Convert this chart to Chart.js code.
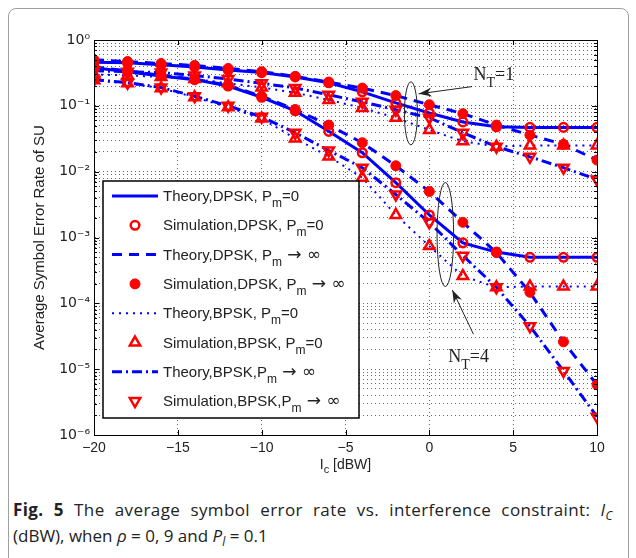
<!DOCTYPE html>
<html>
<head>
<meta charset="utf-8">
<script src="https://cdn.jsdelivr.net/npm/chart.js@4.4.0/dist/chart.umd.min.js"></script>
<style>
  body { margin: 0; background: #fff; }
  #wrap { position: relative; width: 636px; height: 558px; overflow: hidden; }
  #frame { position: absolute; left: 8px; top: 8px; width: 619px; height: 600px; border: 1px solid #a0a0a0; border-radius: 8px; }
  #chartBox { position: absolute; left: 0; top: 0; width: 636px; height: 480px; }
  #caption { position: absolute; left: 13px; top: 497px; width: 600px; font-family: "Open Sans", sans-serif; font-size: 17px; line-height: 26px; color: #222; }
  #caption .first { text-align: justify; text-align-last: justify; letter-spacing: 0.4px; }
  #caption sub { font-size: 12px; line-height: 0; }
</style>
</head>
<body>
<div id="wrap">
  <div id="frame"></div>
  <div id="chartBox"><canvas id="serChart" width="636" height="480"></canvas></div>
  <div id="caption">
    <div class="first"><b>Fig. 5</b> The average symbol error rate vs. interference constraint: <i>I<sub>C</sub></i></div>
    <div>(dBW), when <i>&rho;</i> = 0, 9 and <i>P<sub>l</sub></i> = 0.1</div>
  </div>
</div>
<script>
// I_c values [dBW]
const icValues = [-20, -18, -16, -14, -12, -10, -8, -6, -4, -2, 0, 2, 4, 6, 8, 10];

// N_T = 1
const dpskPm0NT1   = [0.46, 0.45, 0.42, 0.39, 0.35, 0.32, 0.275, 0.224, 0.163, 0.111, 0.078, 0.057, 0.048, 0.047, 0.047, 0.047];
const dpskPmInfNT1 = [0.50, 0.47, 0.44, 0.41, 0.37, 0.33, 0.28, 0.23, 0.186, 0.143, 0.104, 0.076, 0.051, 0.036, 0.026, 0.015];
const bpskPm0NT1   = [0.30, 0.29, 0.275, 0.255, 0.22, 0.19, 0.158, 0.123, 0.093, 0.066, 0.043, 0.029, 0.024, 0.025, 0.025, 0.025];
const bpskPmInfNT1 = [0.34, 0.33, 0.32, 0.29, 0.255, 0.22, 0.187, 0.147, 0.115, 0.087, 0.066, 0.039, 0.024, 0.0168, 0.0115, 0.0076];

// N_T = 4
const dpskPm0NT4   = [0.38, 0.33, 0.285, 0.25, 0.20, 0.135, 0.084, 0.041, 0.0194, 0.0068, 0.0022, 0.00083, 0.0006, 0.0005, 0.0005, 0.0005];
const dpskPmInfNT4 = [0.39, 0.34, 0.29, 0.255, 0.205, 0.14, 0.088, 0.051, 0.0275, 0.0123, 0.005, 0.0017, 0.00059, 0.000147, 0.000026, 0.0000058];
const bpskPm0NT4   = [0.245, 0.22, 0.185, 0.135, 0.095, 0.064, 0.032, 0.017, 0.0081, 0.0022, 0.00074, 0.00026, 0.000175, 0.00018, 0.00018, 0.00018];
const bpskPmInfNT4 = [0.25, 0.225, 0.19, 0.14, 0.10, 0.068, 0.039, 0.021, 0.0115, 0.0045, 0.0017, 0.00053, 0.000175, 0.000045, 0.0000094, 0.0000019];

const xTicks = [-20, -15, -10, -5, 0, 5, 10];

const blue = 'rgb(0, 0, 255)';
const red = 'rgb(255, 0, 0)';
const sansFont = '"Liberation Sans", Arial, sans-serif';
const serifFont = '"Liberation Serif", "Times New Roman", serif';
const symbolFont = '"DejaVu Sans", sans-serif';

const dashed = [10, 7];
const dotted = [2, 5];
const dashDot = [10, 4, 2, 4];

function toPoints(values) {
  return values.map((v, i) => ({ x: icValues[i], y: v }));
}

function theoryLine(label, values, dash, width) {
  return {
    label: label,
    data: toPoints(values),
    borderColor: blue,
    borderWidth: width,
    borderDash: dash,
    pointRadius: 0,
    fill: false,
    tension: 0,
    order: 2
  };
}

function simMarkers(label, values, marker) {
  return {
    label: label,
    data: toPoints(values),
    showLine: false,
    pointStyle: marker.style,
    pointRadius: marker.radius,
    pointRotation: marker.rotation,
    pointBorderColor: red,
    pointBackgroundColor: marker.filled ? red : 'rgba(0,0,0,0)',
    pointBorderWidth: marker.filled ? 1 : 2.5,
    order: 1
  };
}

const openCircle = { style: 'circle', radius: 4.3, rotation: 0, filled: false };
const dot = { style: 'circle', radius: 5, rotation: 0, filled: true };
const upTri = { style: 'triangle', radius: 6, rotation: 0, filled: false };
const downTri = { style: 'triangle', radius: 6, rotation: 180, filled: false };

const datasets = [
  theoryLine('Theory,DPSK, Pm=0 (NT=1)', dpskPm0NT1, [], 3),
  theoryLine('Theory,DPSK, Pm=0 (NT=4)', dpskPm0NT4, [], 3),
  theoryLine('Theory,DPSK, Pm->inf (NT=1)', dpskPmInfNT1, dashed, 3),
  theoryLine('Theory,DPSK, Pm->inf (NT=4)', dpskPmInfNT4, dashed, 3),
  theoryLine('Theory,BPSK, Pm=0 (NT=1)', bpskPm0NT1, dotted, 2),
  theoryLine('Theory,BPSK, Pm=0 (NT=4)', bpskPm0NT4, dotted, 2),
  theoryLine('Theory,BPSK,Pm->inf (NT=1)', bpskPmInfNT1, dashDot, 3),
  theoryLine('Theory,BPSK,Pm->inf (NT=4)', bpskPmInfNT4, dashDot, 3),
  simMarkers('Simulation,DPSK, Pm=0 (NT=1)', dpskPm0NT1, openCircle),
  simMarkers('Simulation,DPSK, Pm=0 (NT=4)', dpskPm0NT4, openCircle),
  simMarkers('Simulation,DPSK, Pm->inf (NT=1)', dpskPmInfNT1, dot),
  simMarkers('Simulation,DPSK, Pm->inf (NT=4)', dpskPmInfNT4, dot),
  simMarkers('Simulation,BPSK, Pm=0 (NT=1)', bpskPm0NT1, upTri),
  simMarkers('Simulation,BPSK, Pm=0 (NT=4)', bpskPm0NT4, upTri),
  simMarkers('Simulation,BPSK,Pm->inf (NT=1)', bpskPmInfNT1, downTri),
  simMarkers('Simulation,BPSK,Pm->inf (NT=4)', bpskPmInfNT4, downTri)
];

// legend rows: [text before subscript, subscript, text after, sample]
const legendRows = [
  ['Theory,DPSK, P', 'm', '=0', { line: [], width: 3 }],
  ['Simulation,DPSK, P', 'm', '=0', { marker: openCircle }],
  ['Theory,DPSK, P', 'm', ' \u2192 \u221e', { line: dashed, width: 3 }],
  ['Simulation,DPSK, P', 'm', ' \u2192 \u221e', { marker: dot }],
  ['Theory,BPSK, P', 'm', '=0', { line: dotted, width: 2 }],
  ['Simulation,BPSK, P', 'm', '=0', { marker: upTri }],
  ['Theory,BPSK,P', 'm', ' \u2192 \u221e', { line: dashDot, width: 3 }],
  ['Simulation,BPSK,P', 'm', ' \u2192 \u221e', { marker: downTri }]
];

const supMap = { '0': '\u2070', '1': '\u00b9', '2': '\u00b2', '3': '\u00b3', '4': '\u2074', '5': '\u2075', '6': '\u2076', '-': '\u207b' };

function drawMarker(ctx, m, x, y) {
  Chart.helpers.drawPoint(ctx, {
    pointStyle: m.style, radius: m.radius, rotation: m.rotation,
    borderWidth: m.filled ? 1 : 2.5
  }, x, y);
}

function drawSubText(ctx, x, y, parts, size, subSize, subDrop, family, tailFont) {
  ctx.font = size + 'px ' + family;
  ctx.fillText(parts[0], x, y);
  x += ctx.measureText(parts[0]).width;
  ctx.font = subSize + 'px ' + family;
  ctx.fillText(parts[1], x, y + subDrop);
  x += ctx.measureText(parts[1]).width;
  ctx.font = tailFont || (size + 'px ' + family);
  ctx.fillText(parts[2], x, y);
  return x + ctx.measureText(parts[2]).width;
}

function arrow(ctx, x1, y1, x2, y2) {
  ctx.beginPath();
  ctx.moveTo(x1, y1);
  ctx.lineTo(x2, y2);
  ctx.stroke();
  const ang = Math.atan2(y2 - y1, x2 - x1);
  const len = 13, half = 4.5;
  ctx.beginPath();
  ctx.moveTo(x2, y2);
  ctx.lineTo(x2 - len * Math.cos(ang) + half * Math.sin(ang), y2 - len * Math.sin(ang) - half * Math.cos(ang));
  ctx.lineTo(x2 - len * 0.7 * Math.cos(ang), y2 - len * 0.7 * Math.sin(ang));
  ctx.lineTo(x2 - len * Math.cos(ang) - half * Math.sin(ang), y2 - len * Math.sin(ang) + half * Math.cos(ang));
  ctx.closePath();
  ctx.fill();
}

const figureExtras = {
  id: 'figureExtras',
  afterDraw(chart) {
    const { ctx, chartArea: a, scales } = chart;
    const xs = scales.x, ys = scales.y;
    ctx.save();

    // box round the axes
    ctx.strokeStyle = '#000';
    ctx.lineWidth = 1;
    ctx.setLineDash([]);
    ctx.strokeRect(Math.round(a.left) + 0.5, Math.round(a.top) + 0.5, Math.round(a.right - a.left), Math.round(a.bottom - a.top));

    // inward tick marks
    ctx.beginPath();
    xTicks.forEach(v => {
      const px = Math.round(xs.getPixelForValue(v)) + 0.5;
      ctx.moveTo(px, a.bottom); ctx.lineTo(px, a.bottom - 5);
      ctx.moveTo(px, a.top); ctx.lineTo(px, a.top + 5);
    });
    ys.ticks.forEach(t => {
      const py = Math.round(ys.getPixelForValue(t.value)) + 0.5;
      const e = Math.log10(t.value);
      const len = Math.abs(e - Math.round(e)) < 1e-9 ? 5 : 3;
      ctx.moveTo(a.left, py); ctx.lineTo(a.left + len, py);
      ctx.moveTo(a.right, py); ctx.lineTo(a.right - len, py);
    });
    ctx.stroke();

    // N_T = 1 annotation
    ctx.lineWidth = 1;
    ctx.strokeStyle = '#222';
    ctx.fillStyle = '#222';
    ctx.beginPath();
    ctx.ellipse(xs.getPixelForValue(-1.1), ys.getPixelForValue(0.077), 6.5, 31.5, 0, 0, Math.PI * 2);
    ctx.stroke();
    arrow(ctx, xs.getPixelForValue(2.55), ys.getPixelForValue(0.196), xs.getPixelForValue(-0.64), ys.getPixelForValue(0.152));
    ctx.textBaseline = 'alphabetic';
    ctx.textAlign = 'left';
    drawSubText(ctx, xs.getPixelForValue(2.63), ys.getPixelForValue(0.25), ['N', 'T', '=1'], 18, 14, 7, serifFont);

    // N_T = 4 annotation
    ctx.beginPath();
    ctx.ellipse(xs.getPixelForValue(0.955), ys.getPixelForValue(0.00111), 8.3, 52, 0, 0, Math.PI * 2);
    ctx.stroke();
    arrow(ctx, xs.getPixelForValue(2.63), ys.getPixelForValue(0.000034), xs.getPixelForValue(1.37), ys.getPixelForValue(0.00016));
    drawSubText(ctx, xs.getPixelForValue(1.13), ys.getPixelForValue(0.000013), ['N', 'T', '=4'], 18, 14, 7, serifFont);

    // legend box
    const lx = 103, ly = 181, lw = 256, lh = 237;
    ctx.fillStyle = '#fff';
    ctx.fillRect(lx, ly, lw, lh);
    ctx.strokeStyle = '#000';
    ctx.lineWidth = 1.5;
    ctx.strokeRect(lx, ly, lw, lh);
    legendRows.forEach((row, i) => {
      const ry = 196 + i * 29.3;
      const s = row[3];
      if (s.marker) {
        ctx.strokeStyle = red;
        ctx.fillStyle = s.marker.filled ? red : 'rgba(0,0,0,0)';
        ctx.lineWidth = s.marker.filled ? 1 : 2.5;
        ctx.setLineDash([]);
        drawMarker(ctx, s.marker, 135, ry);
      } else {
        ctx.strokeStyle = blue;
        ctx.lineWidth = s.width;
        ctx.setLineDash(s.line);
        ctx.beginPath();
        ctx.moveTo(112, ry);
        ctx.lineTo(158, ry);
        ctx.stroke();
        ctx.setLineDash([]);
      }
      ctx.fillStyle = '#222';
      const tail = row[2].indexOf('\u2192') >= 0 ? '17px ' + symbolFont : null;
      drawSubText(ctx, 163, ry + 5, row, 15, 12, 6, sansFont, tail);
    });

    // x axis title with subscript
    ctx.fillStyle = '#222';
    ctx.font = '14px ' + sansFont;
    const parts = ['I', 'c', ' [dBW]'];
    let w = ctx.measureText('I').width + ctx.measureText(' [dBW]').width;
    ctx.font = '11px ' + sansFont;
    w += ctx.measureText('c').width;
    drawSubText(ctx, (a.left + a.right) / 2 - w / 2, 469, parts, 14, 11, 4, sansFont);

    ctx.restore();
  }
};

const ctx = document.getElementById('serChart').getContext('2d');
new Chart(ctx, {
  type: 'line',
  data: { datasets: datasets },
  options: {
    responsive: false,
    animation: false,
    layout: { padding: { left: 0, top: 40, right: 39, bottom: 0 } },
    plugins: {
      legend: { display: false },
      tooltip: { enabled: false }
    },
    scales: {
      x: {
        type: 'linear',
        min: -20,
        max: 10,
        afterFit: scale => { scale.height = 45; },
        afterBuildTicks: scale => { scale.ticks = xTicks.map(v => ({ value: v })); },
        ticks: {
          color: '#222',
          font: { family: sansFont, size: 14 },
          padding: 5,
          callback: v => (v < 0 ? '\u2212' + Math.abs(v) : String(v))
        },
        grid: { color: 'rgba(0,0,0,0.6)', lineWidth: 1, drawTicks: false },
        border: { display: true, color: '#000', width: 1, dash: [1, 3] }
      },
      y: {
        type: 'logarithmic',
        min: 1e-6,
        max: 1,
        afterFit: scale => { scale.width = 94; },
        afterBuildTicks: scale => {
          const vals = [];
          for (let e = -6; e < 0; e++) {
            for (let m = 1; m <= 9; m++) vals.push(m * Math.pow(10, e));
          }
          vals.push(1);
          scale.ticks = vals.map(v => ({ value: v }));
        },
        ticks: {
          autoSkip: false,
          color: '#222',
          font: { family: symbolFont, size: 14 },
          padding: 4,
          callback: v => {
            const e = Math.log10(v);
            if (Math.abs(e - Math.round(e)) > 1e-9) return '';
            return '10' + String(Math.round(e)).split('').map(c => supMap[c]).join('');
          }
        },
        grid: { color: 'rgba(0,0,0,0.6)', lineWidth: 1, drawTicks: false },
        border: { display: true, color: '#000', width: 1, dash: [1, 3] },
        title: {
          display: true,
          text: 'Average Symbol Error Rate of SU',
          color: '#222',
          font: { family: sansFont, size: 15 },
          padding: { top: 31, bottom: 0 }
        }
      }
    }
  },
  plugins: [figureExtras]
});
</script>
</body>
</html>
